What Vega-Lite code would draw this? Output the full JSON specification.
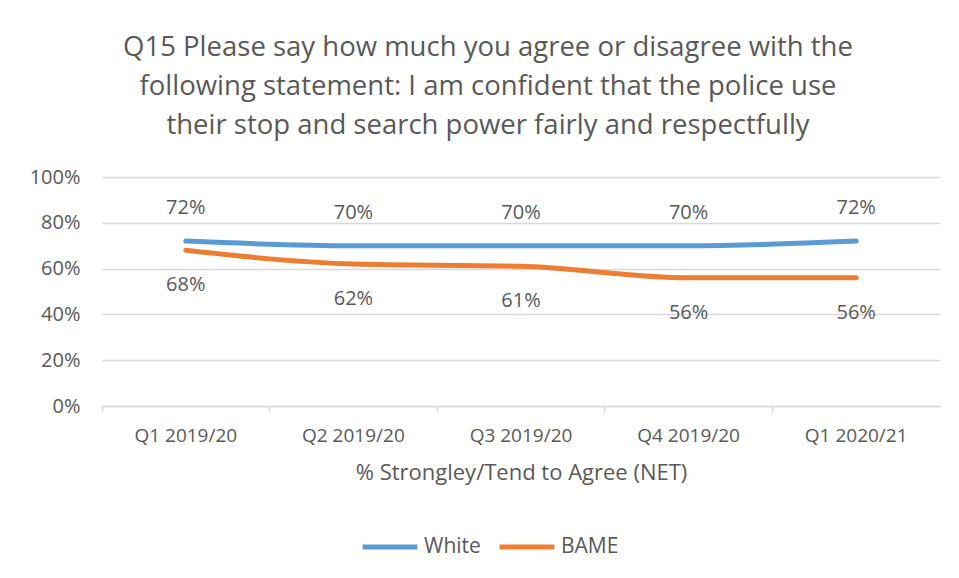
{
  "$schema": "https://vega.github.io/schema/vega-lite/v6.json",
  "width": 838,
  "height": 229,
  "autosize": "none",
  "padding": {"left": 102, "top": 177, "right": 19, "bottom": 172},
  "background": "white",
  "title": {
    "text": ["Q15 Please say how much you agree or disagree with the", "following statement: I am confident that the police use", "their stop and search power fairly and respectfully"],
    "font": "Open Sans",
    "fontSize": 27.5,
    "fontWeight": "normal",
    "color": "#595959",
    "lineHeight": 39,
    "offset": 28,
    "dx": -33
  },
  "data": {
    "values": [
      {"quarter": "Q1 2019/20", "group": "White", "value": 0.72},
      {"quarter": "Q2 2019/20", "group": "White", "value": 0.70},
      {"quarter": "Q3 2019/20", "group": "White", "value": 0.70},
      {"quarter": "Q4 2019/20", "group": "White", "value": 0.70},
      {"quarter": "Q1 2020/21", "group": "White", "value": 0.72},
      {"quarter": "Q1 2019/20", "group": "BAME", "value": 0.68},
      {"quarter": "Q2 2019/20", "group": "BAME", "value": 0.62},
      {"quarter": "Q3 2019/20", "group": "BAME", "value": 0.61},
      {"quarter": "Q4 2019/20", "group": "BAME", "value": 0.56},
      {"quarter": "Q1 2020/21", "group": "BAME", "value": 0.56}
    ]
  },
  "encoding": {
    "x": {
      "field": "quarter",
      "type": "ordinal",
      "sort": ["Q1 2019/20", "Q2 2019/20", "Q3 2019/20", "Q4 2019/20", "Q1 2020/21"],
      "scale": {"type": "band", "paddingInner": 0, "paddingOuter": 0},
      "bandPosition": 0.5,
      "axis": {
        "title": "% Strongley/Tend to Agree (NET)",
        "bandPosition": 0,
        "labelAngle": 0,
        "grid": false,
        "domainColor": "#D9D9D9",
        "domainWidth": 1.5,
        "tickColor": "#D9D9D9",
        "tickWidth": 1.5,
        "tickSize": 6,
        "labelPadding": 14,
        "labelFont": "Open Sans",
        "labelFontSize": 19,
        "labelColor": "#595959",
        "titleFont": "Open Sans",
        "titleFontSize": 22,
        "titleFontWeight": "normal",
        "titleColor": "#595959",
        "titlePadding": 17
      }
    },
    "y": {
      "field": "value",
      "type": "quantitative",
      "scale": {"domain": [0, 1]},
      "axis": {
        "title": null,
        "format": ".0%",
        "values": [0, 0.2, 0.4, 0.6, 0.8, 1],
        "domain": false,
        "ticks": false,
        "labelPadding": 22,
        "labelFont": "Open Sans",
        "labelFontSize": 20,
        "labelColor": "#595959",
        "gridColor": "#D9D9D9",
        "gridWidth": 1.5
      }
    },
    "color": {
      "field": "group",
      "type": "nominal",
      "scale": {"domain": ["White", "BAME"], "range": ["#5B9BD5", "#ED7D31"]},
      "legend": {
        "title": null,
        "orient": "none",
        "direction": "horizontal",
        "legendX": 258,
        "legendY": 340,
        "symbolType": "stroke",
        "symbolSize": 3000,
        "symbolStrokeWidth": 5,
        "labelFont": "Open Sans",
        "labelFontSize": 21,
        "labelColor": "#595959",
        "labelOffset": 4,
        "columnPadding": 8
      }
    }
  },
  "layer": [
    {
      "mark": {"type": "line", "strokeWidth": 5, "interpolate": "monotone", "strokeCap": "round"}
    },
    {
      "transform": [{"filter": "datum.group === 'White'"}],
      "mark": {"type": "text", "dy": -33, "font": "Open Sans", "fontSize": 20},
      "encoding": {
        "text": {"field": "value", "type": "quantitative", "format": ".0%"},
        "color": {"value": "#595959"}
      }
    },
    {
      "transform": [{"filter": "datum.group === 'BAME'"}],
      "mark": {"type": "text", "dy": 35, "font": "Open Sans", "fontSize": 20},
      "encoding": {
        "text": {"field": "value", "type": "quantitative", "format": ".0%"},
        "color": {"value": "#595959"}
      }
    }
  ],
  "config": {"view": {"stroke": null}}
}
